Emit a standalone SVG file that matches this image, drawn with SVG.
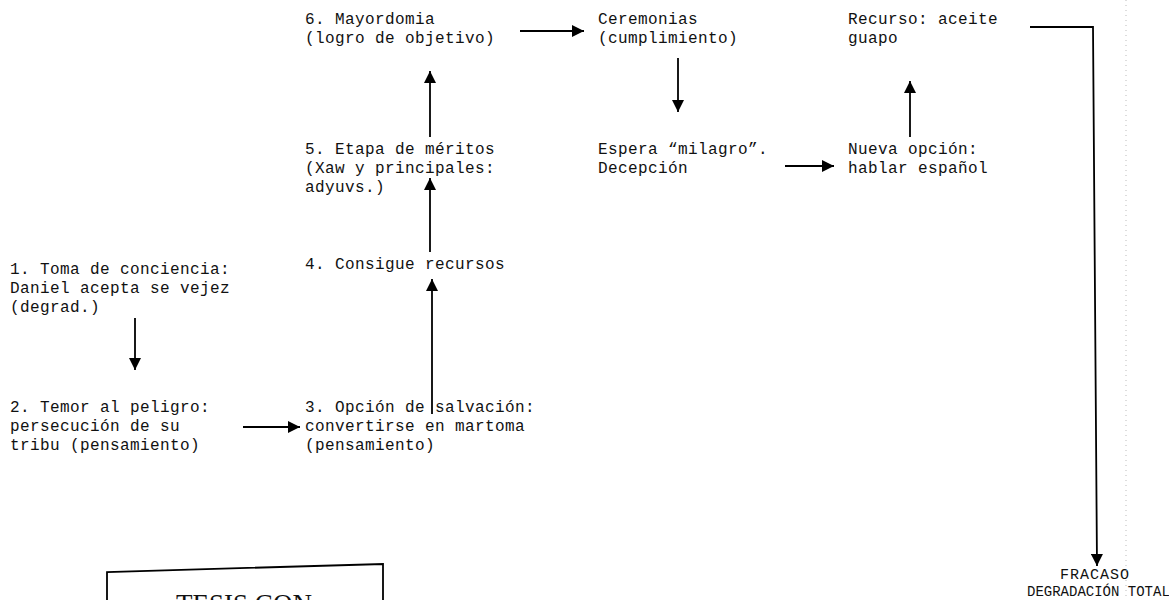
<svg xmlns="http://www.w3.org/2000/svg" width="1169" height="600" viewBox="0 0 1169 600">
<style>
.t{font-family:"Liberation Mono","Courier New",monospace;font-size:16px;letter-spacing:0.4px;fill:#111}
.c{stroke:#000;stroke-width:1.8;fill:none}
</style>
<defs>
<marker id="ah" viewBox="0 0 12 12" refX="12" refY="6" markerWidth="13" markerHeight="12" markerUnits="userSpaceOnUse" orient="auto">
<path d="M0,0 L12,6 L0,12 z" fill="#000"/>
</marker>
</defs>
<rect width="1169" height="600" fill="#fff"/>
<g id="n1"><text class="t" x="10" y="274">1. Toma de conciencia:</text><text class="t" x="10" y="293">Daniel acepta se vejez</text><text class="t" x="10" y="312">(degrad.)</text></g>
<g id="n2"><text class="t" x="10" y="412">2. Temor al peligro:</text><text class="t" x="10" y="431">persecución de su</text><text class="t" x="10" y="450">tribu (pensamiento)</text></g>
<g id="n3"><text class="t" x="305" y="412">3. Opción de salvación:</text><text class="t" x="305" y="431">convertirse en martoma</text><text class="t" x="305" y="450">(pensamiento)</text></g>
<g id="n4"><text class="t" x="305" y="269">4. Consigue recursos</text></g>
<g id="n5"><text class="t" x="305" y="154">5. Etapa de méritos</text><text class="t" x="305" y="173">(Xaw y principales:</text><text class="t" x="305" y="192">adyuvs.)</text></g>
<g id="n6"><text class="t" x="305" y="24">6. Mayordomia</text><text class="t" x="305" y="43">(logro de objetivo)</text></g>
<g id="n7"><text class="t" x="598" y="24">Ceremonias</text><text class="t" x="598" y="43">(cumplimiento)</text></g>
<g id="n8"><text class="t" x="598" y="154">Espera “milagro”.</text><text class="t" x="598" y="173">Decepción</text></g>
<g id="n9"><text class="t" x="848" y="154">Nueva opción:</text><text class="t" x="848" y="173">hablar español</text></g>
<g id="n10"><text class="t" x="848" y="24">Recurso: aceite</text><text class="t" x="848" y="43">guapo</text></g>
<g id="n11"><text class="t" x="1095" y="579" text-anchor="middle" style="font-size:15px;letter-spacing:1px">FRACASO</text><text class="t" x="1027" y="596" style="font-size:14px;letter-spacing:0">DEGRADACIÓN TOTAL</text></g>
<g id="stamp"><path d="M107,600 L107,572 L383,564 L383,600" class="c" stroke-width="2.2"/><text x="244" y="613" text-anchor="middle" font-family="Liberation Serif,serif" font-size="27" fill="#111">TESIS CON</text></g>
<g id="connectors">
<line class="c" x1="135" y1="318" x2="135" y2="370" marker-end="url(#ah)"/>
<line class="c" x1="243" y1="427" x2="300" y2="427" marker-end="url(#ah)"/>
<line class="c" x1="432" y1="414" x2="432" y2="279" marker-end="url(#ah)"/>
<line class="c" x1="430" y1="252" x2="430" y2="178" marker-end="url(#ah)"/>
<line class="c" x1="430" y1="137" x2="430" y2="71" marker-end="url(#ah)"/>
<line class="c" x1="520" y1="31" x2="584" y2="31" marker-end="url(#ah)"/>
<line class="c" x1="678" y1="58" x2="678" y2="112" marker-end="url(#ah)"/>
<line class="c" x1="785" y1="166" x2="834" y2="166" marker-end="url(#ah)"/>
<line class="c" x1="910" y1="137" x2="910" y2="81" marker-end="url(#ah)"/>
<path class="c" d="M1030,27 L1093,27 L1097,566" marker-end="url(#ah)"/>
</g>
<line x1="1126" y1="0" x2="1126" y2="600" stroke="#bbb" stroke-width="1" stroke-dasharray="1,4"/>
</svg>
